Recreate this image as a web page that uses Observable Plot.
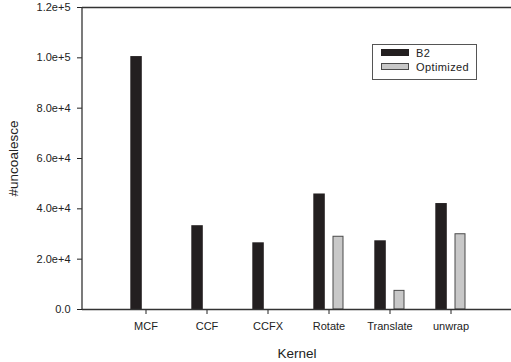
<!DOCTYPE html>
<html>
<head>
<meta charset="utf-8">
<script src="https://cdn.jsdelivr.net/npm/d3@7"></script>
<script src="https://cdn.jsdelivr.net/npm/@observablehq/plot@0.6"></script>
<style>
  html, body { margin: 0; padding: 0; background: #fff; }
  #wrap { position: relative; width: 511px; height: 362px; font-family: "Liberation Sans", Arial, sans-serif; }
  #legend { position: absolute; left: 372px; top: 44px; width: 105px; height: 36px; border: 1px solid #555; box-sizing: border-box; background: #fff; font-size: 11px; color: #222; letter-spacing: 0.4px; }
  .row { position: absolute; left: 8px; display: flex; align-items: center; height: 10px; }
  .sw { width: 28px; height: 7px; box-sizing: border-box; margin-right: 7px; }
</style>
</head>
<body>
<div id="wrap"></div>
<script>
const kernels = ["MCF", "CCF", "CCFX", "Rotate", "Translate", "unwrap"];
const b2 = [100500, 33300, 26500, 45900, 27300, 42100];
const optimized = [null, null, null, 28900, 7400, 29900];
const yTicks = [0, 20000, 40000, 60000, 80000, 100000, 120000];
const seriesNames = ["B2", "Optimized"];
const seriesColors = ["#231f20", "#c8c8c8"];
const yTitle = "#uncoalesce";
const xTitle = "Kernel";

const rowsB2 = kernels.map((k, i) => ({kernel: k, value: b2[i]}));
const rowsOpt = kernels.map((k, i) => ({kernel: k, value: optimized[i]})).filter(d => d.value != null);

const fmt = d => d === 0 ? "0.0" : d3.format(".1e")(d);

const chart = Plot.plot({
  width: 511,
  height: 362,
  marginLeft: 82,
  marginRight: 0,
  marginTop: 7,
  marginBottom: 53,
  style: {fontFamily: "Liberation Sans, Arial, sans-serif", fontSize: "11px", color: "#222", background: "#fff"},
  x: {domain: kernels, range: [112.5, 482.5], padding: 0},
  y: {domain: [0, 120000], ticks: yTicks},
  marks: [
    Plot.barY(rowsB2, {x: "kernel", y: "value", fill: seriesColors[0], insetLeft: 15.3, insetRight: 34.2}),
    Plot.barY(rowsOpt, {x: "kernel", y: "value", fill: seriesColors[1], stroke: "#4a4a4a", strokeWidth: 1, insetLeft: 35, insetRight: 16}),
    Plot.axisY({ticks: yTicks, tickFormat: fmt, tickSize: 5, tickPadding: 7, label: yTitle, labelArrow: false, labelAnchor: "center", labelOffset: 74, fontSize: 11, style: {letterSpacing: "0.4px"}}),
    Plot.axisX({tickSize: 5, tickPadding: 8, label: xTitle, labelArrow: false, labelAnchor: "center", labelOffset: 48, fontSize: 11, style: {letterSpacing: "0.4px"}}),
    Plot.ruleY([0], {stroke: "#333", strokeWidth: 1.3}),
    Plot.ruleY([120000], {stroke: "#333", strokeWidth: 1.3})
  ]
});
document.getElementById("wrap").appendChild(chart);

const svg = d3.select(chart);
// left axis line
svg.append("line").attr("x1", 82).attr("x2", 82).attr("y1", 7).attr("y2", 309).attr("stroke", "#333").attr("stroke-width", 1.3);
// axis titles: larger, no arrows
svg.selectAll("[aria-label='y-axis label'] text").text(yTitle).style("font-size", "13.5px");
svg.selectAll("[aria-label='x-axis label'] text").text(xTitle).style("font-size", "13.5px");

const legend = document.createElement("div");
legend.id = "legend";
seriesNames.forEach((name, i) => {
  const row = document.createElement("div");
  row.className = "row";
  row.style.top = (i === 0 ? 2.5 : 16.5) + "px";
  const sw = document.createElement("div");
  sw.className = "sw";
  sw.style.background = seriesColors[i];
  sw.style.border = "1px solid " + (i === 0 ? seriesColors[0] : "#4a4a4a");
  const t = document.createElement("span");
  t.textContent = name;
  row.appendChild(sw);
  row.appendChild(t);
  legend.appendChild(row);
});
document.getElementById("wrap").appendChild(legend);
</script>
</body>
</html>
